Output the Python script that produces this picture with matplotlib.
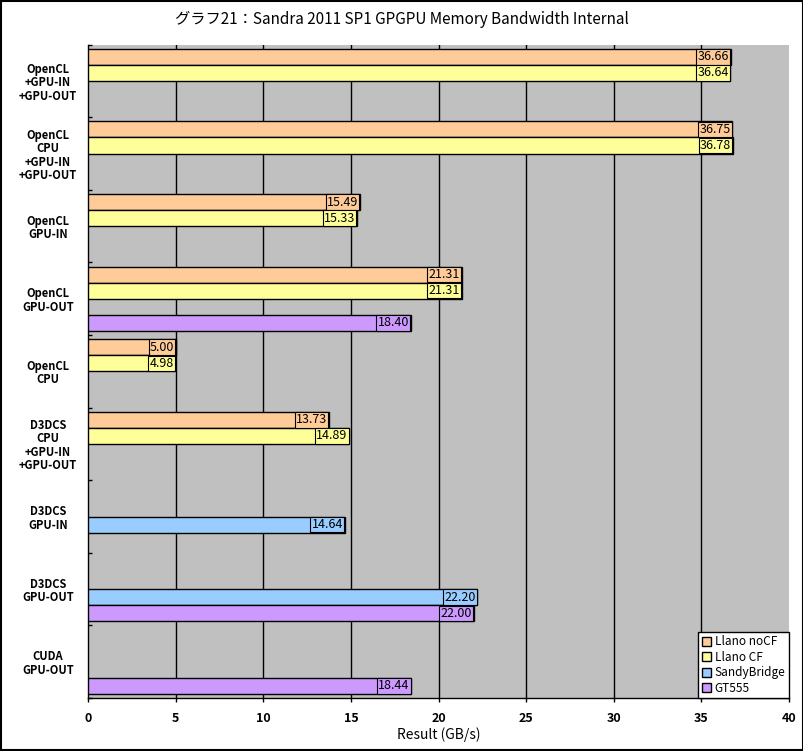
import matplotlib
matplotlib.use("Agg")
import matplotlib.pyplot as plt
import numpy as np

plt.rcParams['font.family'] = ['Noto Sans CJK JP', 'DejaVu Sans']

# categories, top to bottom
categories = [
    "OpenCL\n+GPU-IN\n+GPU-OUT",
    "OpenCL\nCPU\n+GPU-IN\n+GPU-OUT",
    "OpenCL\nGPU-IN",
    "OpenCL\nGPU-OUT",
    "OpenCL\nCPU",
    "D3DCS\nCPU\n+GPU-IN\n+GPU-OUT",
    "D3DCS\nGPU-IN",
    "D3DCS\nGPU-OUT",
    "CUDA\nGPU-OUT",
]
series_names = ["Llano noCF", "Llano CF", "SandyBridge", "GT555"]
llano_nocf = [36.66, 36.75, 15.49, 21.31, 5.00, 13.73, None, None, None]
llano_cf = [36.64, 36.78, 15.33, 21.31, 4.98, 14.89, None, None, None]
sandybridge = [None, None, None, None, None, None, 14.64, 22.20, None]
gt555 = [None, None, None, 18.40, None, None, None, 22.00, 18.44]
colors = ["#FFCC99", "#FFFF99", "#99CCFF", "#CC99FF"]

fig = plt.figure(figsize=(8.04, 7.51), dpi=100)
ax = fig.add_axes([0.1095, 0.0705, 0.872, 0.87])
ax.set_facecolor("#C0C0C0")

n = len(categories)
bh = 0.222
gap = (1 - 4 * bh) / 2
all_series = [llano_nocf, llano_cf, sandybridge, gt555]
for k, (vals, col, name) in enumerate(zip(all_series, colors, series_names)):
    ys = [i + gap + bh / 2 + k * bh for i in range(n) if vals[i] is not None]
    xs = [v for v in vals if v is not None]
    ax.barh(ys, xs, height=bh, color=col, edgecolor="black", linewidth=1.0,
            label=name, zorder=3)
    for x, y in zip(xs, ys):
        ax.annotate(f"{x:.2f}", xy=(x, y), xytext=(-1.1, 0), textcoords="offset points",
                    ha="right", va="center", fontsize=9, zorder=4,
                    bbox=dict(boxstyle="square,pad=0.1", fc=col, ec="black", lw=0.8))

ax.set_xlim(0, 40)
ax.set_ylim(n, 0)
ax.set_xticks(np.arange(0, 41, 5))
ax.tick_params(axis="x", length=3, width=1, labelsize=9, pad=7)
for t in ax.get_xticklabels():
    t.set_fontweight("bold")
for x in range(5, 40, 5):
    ax.axvline(x, color="black", lw=1, zorder=1)

ax.set_yticks(np.arange(n) + 0.5)
ax.set_yticklabels(categories, fontsize=8, fontweight="bold", linespacing=1.05,
                   ha="center")
ax.tick_params(axis="y", length=0, pad=29)
ax.set_yticks(np.arange(n + 1), minor=True)
ax.tick_params(axis="y", which="minor", length=3, direction="in", width=1)

for s in ["top", "right"]:
    ax.spines[s].set_visible(False)
for s in ["left", "bottom"]:
    ax.spines[s].set_linewidth(1)

ax.set_xlabel("Result (GB/s)", fontsize=10, labelpad=2)
fig.suptitle("グラフ21：Sandra 2011 SP1 GPGPU Memory Bandwidth Internal",
             fontsize=11, y=0.986)

leg = ax.legend(loc="lower right", fontsize=8.5, frameon=True, fancybox=False,
                edgecolor="black", framealpha=1, handlelength=0.8, handleheight=0.8,
                handletextpad=0.3, borderpad=0.3, labelspacing=0.2,
                borderaxespad=0.0)
leg.get_frame().set_linewidth(1)

fig.patches.append(plt.Rectangle((0.001, 0.001), 0.998, 0.998, transform=fig.transFigure,
                                 fill=False, ec="black", lw=1.5))

fig.savefig("out.png", dpi=100)
